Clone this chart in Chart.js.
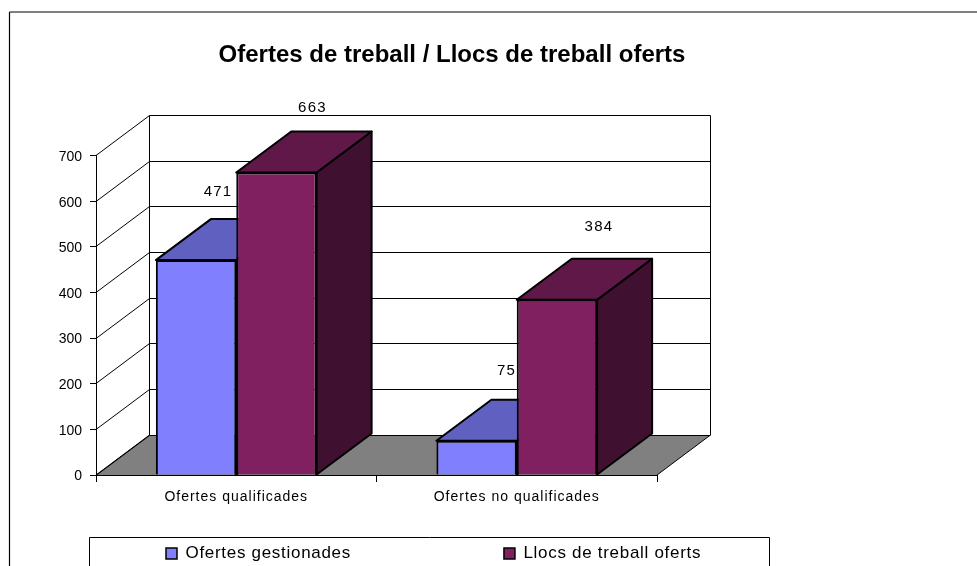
<!DOCTYPE html>
<html>
<head>
<meta charset="utf-8">
<title>Ofertes de treball</title>
<script src="https://cdn.jsdelivr.net/npm/chart.js@4"></script>
<style>
  html, body { margin: 0; padding: 0; background: #fff; overflow: hidden; }
  canvas { display: block; }
</style>
</head>
<body>
<canvas id="chart" width="977" height="566"></canvas>
<script>
// --- data ---
const categories = ['Ofertes qualificades', 'Ofertes no qualificades'];
const seriesNames = ['Ofertes gestionades', 'Llocs de treball oferts'];
const ofertes = [471, 75];
const llocs = [663, 384];
const yTicksMax = 700;
const yTicksStep = 100;
const chartTitle = 'Ofertes de treball / Llocs de treball oferts';

// --- look ---
const FONT = '"Liberation Sans", Arial, sans-serif';
const wallDepth = { x: 53.5, y: 40 };
const barDepth = { x: 55, y: 41 };
const frontColors = ['#8080ff', '#802060'];
const topColors = ['#6060c0', '#601848'];
const sideColors = ['#404080', '#401030'];
const legendPad = 153;
// where the value labels float, relative to the bar's front top centre
const labelNudge = [[[22, -68], [30, -70]], [[36, -65], [42, -73]]];

function poly(ctx, pts, fill, stroke, lw) {
  ctx.beginPath();
  pts.forEach((p, i) => i ? ctx.lineTo(p[0], p[1]) : ctx.moveTo(p[0], p[1]));
  ctx.closePath();
  if (fill) { ctx.fillStyle = fill; ctx.fill(); }
  if (stroke) { ctx.strokeStyle = stroke; ctx.lineWidth = lw || 1; ctx.stroke(); }
}

function line(ctx, x1, y1, x2, y2) {
  ctx.beginPath();
  ctx.moveTo(x1, y1);
  ctx.lineTo(x2, y2);
  ctx.stroke();
}

// frame, back wall, side wall and floor go under the axes
const walls = {
  id: 'walls',
  beforeDraw(chart) {
    const { ctx, chartArea: a, scales: { y } } = chart;
    const dx = wallDepth.x, dy = wallDepth.y;
    ctx.save();
    ctx.fillStyle = '#fff';
    ctx.fillRect(0, 0, chart.width, chart.height);

    // outer chart border, cut by the picture on the right and at the bottom
    ctx.strokeStyle = '#000';
    ctx.lineWidth = 1.2;
    line(ctx, 9.5, 12, 977, 12);
    line(ctx, 9.5, 12, 9.5, 566);

    // floor
    poly(ctx, [[a.left, a.bottom], [a.left + dx, a.bottom - dy], [a.right + dx, a.bottom - dy], [a.right, a.bottom]], '#808080');
    ctx.strokeStyle = '#000';
    ctx.lineWidth = 1;
    line(ctx, a.left, a.bottom, a.left + dx, a.bottom - dy);
    line(ctx, a.right, a.bottom, a.right + dx, a.bottom - dy);

    // gridlines on back wall and side wall
    for (let v = 0; v <= yTicksMax; v += yTicksStep) {
      const py = Math.floor(y.getPixelForValue(v)) + 0.5;
      line(ctx, a.left, py, a.left + dx, py - dy);
      line(ctx, a.left + dx, py - dy, a.right + dx, py - dy);
    }
    line(ctx, a.left + dx, a.top - dy, a.left + dx, a.bottom - dy);
    line(ctx, a.right + dx, a.top - dy, a.right + dx, a.bottom - dy);
    ctx.restore();
  },
  // top and side faces of the bars, taken from the bars the library laid out
  beforeDatasetsDraw(chart) {
    const ctx = chart.ctx;
    const dx = barDepth.x, dy = barDepth.y;
    ctx.save();
    ctx.lineJoin = 'round';
    chart.data.datasets.forEach((ds, i) => {
      chart.getDatasetMeta(i).data.forEach(bar => {
        const l = bar.x - bar.width / 2, r = bar.x + bar.width / 2;
        poly(ctx, [[r, bar.y], [r + dx, bar.y - dy], [r + dx, bar.base - dy], [r, bar.base]], sideColors[i], '#000', 2);
        poly(ctx, [[l, bar.y], [l + dx, bar.y - dy], [r + dx, bar.y - dy], [r, bar.y]], topColors[i], '#000', 2);
      });
    });
    ctx.restore();
  },
  afterDatasetsDraw(chart) {
    const ctx = chart.ctx;
    ctx.save();
    ctx.fillStyle = '#000';
    ctx.font = '15px ' + FONT;
    ctx.letterSpacing = '1.2px';
    ctx.textAlign = 'center';
    ctx.textBaseline = 'middle';
    chart.data.datasets.forEach((ds, i) => {
      chart.getDatasetMeta(i).data.forEach((bar, j) => {
        const n = labelNudge[i][j];
        ctx.fillText(String(ds.data[j]), bar.x + n[0], bar.y + n[1]);
      });
    });
    ctx.letterSpacing = '0px';
    ctx.restore();
  },
  afterDraw(chart) {
    // legend box, runs off the bottom of the picture
    const ctx = chart.ctx;
    ctx.save();
    ctx.strokeStyle = '#000';
    ctx.lineWidth = 1;
    line(ctx, 89.5, 537.5, 769.5, 537.5);
    line(ctx, 89.5, 537.5, 89.5, 566);
    line(ctx, 769.5, 537.5, 769.5, 566);
    ctx.restore();
  }
};

// Excel's text is wider than Arial's metrics: add a little tracking
function spaced(obj, method, px) {
  if (obj['_sp' + method]) return;
  obj['_sp' + method] = true;
  const orig = obj[method];
  obj[method] = function () {
    const c = this.ctx;
    c.letterSpacing = px;
    orig.apply(this, arguments);
    c.letterSpacing = '0px';
  };
}

// title and legend do not follow the plot's width in the original
const placement = {
  id: 'placement',
  afterLayout(chart) {
    const t = chart.titleBlock, l = chart.legend;
    t.left = 0; t.right = 904; t.width = 904;

    chart.ctx.letterSpacing = '0.7px';
    l.maxWidth = 2000;
    l.fit();
    chart.ctx.letterSpacing = '0px';
    l.left = 166 - legendPad; l.right = 1000; l.width = l.right - l.left;
    l.top = 545 - legendPad;

    spaced(chart.scales.x, 'drawLabels', '1px');
    spaced(l, 'draw', '0.7px');
  }
};

new Chart(document.getElementById('chart'), {
  type: 'bar',
  data: {
    labels: categories,
    datasets: [
      { label: seriesNames[0], data: ofertes, backgroundColor: frontColors[0], borderColor: '#000', borderWidth: 2 },
      { label: seriesNames[1], data: llocs, backgroundColor: frontColors[1], borderColor: '#000', borderWidth: 2 }
    ]
  },
  options: {
    responsive: false,
    animation: false,
    layout: { padding: { left: 0, right: 320, top: 0, bottom: 0 } },
    datasets: { bar: { categoryPercentage: 0.573, barPercentage: 1 } },
    plugins: {
      tooltip: { enabled: false },
      title: {
        display: true,
        text: chartTitle,
        color: '#000',
        font: { family: FONT, size: 24, weight: 'bold', lineHeight: 1.2 },
        padding: { top: 40.6, bottom: 86.2 }
      },
      legend: {
        display: true,
        position: 'bottom',
        align: 'start',
        maxHeight: 1,
        labels: {
          color: '#000',
          font: { family: FONT, size: 17 },
          boxWidth: 11,
          boxHeight: 11,
          padding: legendPad,
          generateLabels(chart) {
            return chart.data.datasets.map((ds, i) => ({
              text: ds.label, fillStyle: frontColors[i], strokeStyle: '#000', lineWidth: 1.5, datasetIndex: i
            }));
          }
        }
      }
    },
    scales: {
      x: {
        afterFit(s) { s.height = 90; },
        grid: { display: true, drawOnChartArea: false, drawTicks: true, tickLength: 7, color: '#000' },
        border: { display: true, color: '#000', width: 1 },
        ticks: { color: '#000', padding: 7, font: { family: FONT, size: 14 }, maxRotation: 0 }
      },
      y: {
        min: 0,
        max: yTicksMax,
        afterFit(s) { s.width = 96; },
        grid: { display: true, drawOnChartArea: false, drawTicks: true, tickLength: 6, color: '#000' },
        border: { display: true, color: '#000', width: 1 },
        ticks: { stepSize: yTicksStep, color: '#000', padding: 8, labelOffset: 1.5, font: { family: FONT, size: 14 } }
      }
    }
  },
  plugins: [walls, placement]
});
</script>
</body>
</html>
